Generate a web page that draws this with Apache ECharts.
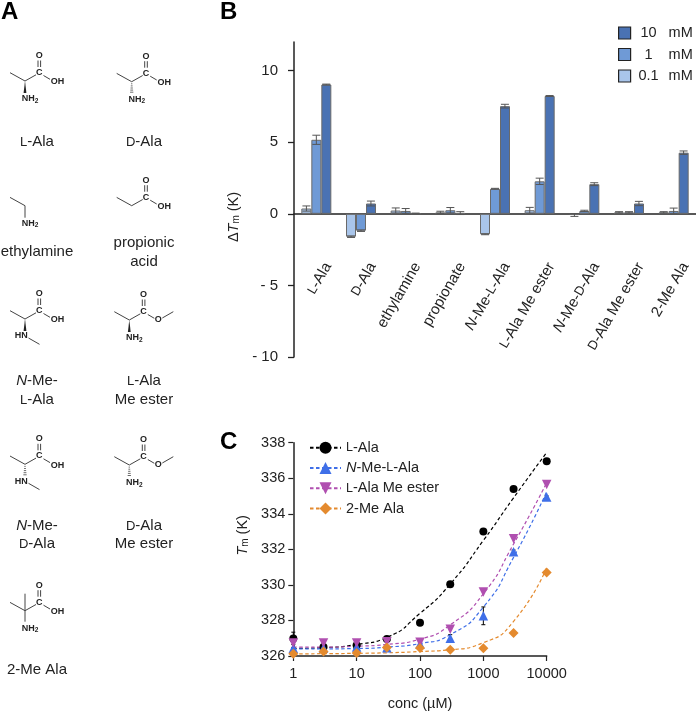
<!DOCTYPE html>
<html><head><meta charset="utf-8">
<style>html,body{margin:0;padding:0;background:#fff}#c{width:696px;height:712px}</style>
<script src="https://cdn.jsdelivr.net/npm/echarts@6/dist/echarts.min.js"></script>
</head><body><div id="c"></div>
<script>
// Panel B data
const compounds = ['L-Ala','D-Ala','ethylamine','propionate','N-Me-L-Ala','L-Ala Me ester','N-Me-D-Ala','D-Ala Me ester','2-Me Ala'];
const dTm_01 = [0.37,-1.6,0.23,0.1,-1.43,0.25,-0.08,0.1,0.1];
const dTm_1  = [5.17,-1.18,0.2,0.25,1.75,2.27,0.2,0.1,0.2];
const dTm_10 = [9.03,0.72,0.03,0.05,7.52,8.23,2.07,0.72,4.27];
const err_01 = [0.18,0.05,0.18,0.08,0.03,0.2,0.1,0.05,0.05];
const err_1  = [0.32,0.05,0.17,0.19,0.03,0.22,0.05,0.05,0.2];
const err_10 = [0.03,0.17,0.02,0.1,0.13,0.03,0.1,0.15,0.12];
// Panel C data
const conc = [1,3,10,30,100,300,1000,3000,10000];
const lAla   = [326.99,326.5,326.6,326.95,327.87,330.03,333.0,335.4,336.95];
const nMe    = [326.43,326.45,326.5,326.47,326.67,327.0,328.26,331.86,334.95];
const ester  = [326.73,326.73,326.73,326.8,326.77,327.5,329.6,332.6,335.65];
const twoMe  = [326.13,326.26,326.17,326.48,326.45,326.35,326.43,327.3,330.7];
const errLAla= [0.35,0.1,0.1,0.1,0.05,0.05,0.05,0.05,0.05];
const errNMe = [0.05,0.05,0.05,0.05,0.1,0.2,0.5,0.1,0.05];
const fitLAla  = [326.42,326.47,326.65,327.05,328.4,330.05,332.5,334.9,337.45];
const fitNMe   = [326.4,326.4,326.42,326.5,326.7,327.2,328.75,331.55,335.25];
const fitEster = [326.5,326.5,326.55,326.65,326.95,327.75,329.5,332.3,335.75];
const fitTwoMe = [326.12,326.13,326.15,326.18,326.25,326.35,326.75,327.95,331.0];
const yTicksB = [-10,-5,0,5,10];

const FONT = '"Liberation Sans", Arial, sans-serif';
const INK = '#222';
const pairs = a => conc.map((c,i)=>[c,a[i]]);

/* ---------- molecule drawings (panel A) ---------- */
const gfx = [];
const seg = (x,y,p,w) => gfx.push({type:'line',silent:true,shape:{x1:x+p[0],y1:y+p[1],x2:x+p[2],y2:y+p[3]},style:{stroke:'#444',lineWidth:w||1}});
const atom = (x,y,dx,dy,t) => gfx.push({type:'text',silent:true,style:{x:x+dx,y:y+dy,text:t,align:'center',verticalAlign:'middle',fill:'#222',font:'bold 9px '+FONT,
  rich:{s:{font:'bold 6.5px '+FONT,fill:'#222',padding:[4,0,0,0]}}}});
const wedge = (x,y)=>gfx.push({type:'polygon',silent:true,shape:{points:[[x,y],[x-1.4,y+12],[x+1.4,y+12]]},style:{fill:'#222'}});
const hash = (x,y)=>{for(let i=1;i<=5;i++){const w=.4+i*.25;seg(x,y,[-w,i*2.1,w,i*2.1],.8);}};
function acid(x,y,ester){
  seg(x,y,[0,0,11,-6.2]); atom(x,y,14.3,-8.3,'C'); atom(x,y,14.3,-25.3,'O');
  seg(x,y,[13,-20.5,13,-14]); seg(x,y,[15.6,-20.5,15.6,-14]); seg(x,y,[18.5,-5.5,25,-1.7]);
  if(ester){atom(x,y,29,0,'O'); seg(x,y,[33,-2,44,-8.3]);} else atom(x,y,32.5,1,'OH');
}
const methyl=(x,y)=>seg(x,y,[-15,-8.3,0,0]);
const amine=(x,y)=>atom(x,y,5,18,'NH{s|2}');
// L-Ala, D-Ala
methyl(25,81);acid(25,81);wedge(25,81);amine(25,81);
methyl(131.7,81.7);acid(131.7,81.7);hash(131.7,81.7);amine(131.7,81.7);
// ethylamine, propionic acid
methyl(25,205.7);seg(25,205.7,[0,0,0,12]);amine(25,205.7);
methyl(131.7,205.7);acid(131.7,205.7);
// N-Me-L-Ala, L-Ala Me ester
methyl(25,319);acid(25,319);wedge(25,319);atom(25,319,-3.7,17,'HN');seg(25,319,[3.5,19,14.5,25.3]);
methyl(129.3,320);acid(129.3,320,true);wedge(129.3,320);amine(129.3,320);
// N-Me-D-Ala, D-Ala Me ester
methyl(25,464.3);acid(25,464.3);hash(25,464.3);atom(25,464.3,-3.7,17,'HN');seg(25,464.3,[3.5,19,14.5,25.3]);
methyl(129.3,465);acid(129.3,465,true);hash(129.3,465);amine(129.3,465);
// 2-Me Ala
methyl(25,610.7);acid(25,610.7);seg(25,610.7,[0,-17,0,11]);amine(25,610.7);

const richLab = {n:{font:'italic 15px '+FONT,fill:INK},s:{font:'13px '+FONT,fill:INK}};
const lab=(x,y,t)=>gfx.push({type:'text',silent:true,style:{x,y,text:t,align:'center',verticalAlign:'middle',fill:INK,font:'15px '+FONT,rich:richLab}});
lab(37,142,'{s|L}-Ala');lab(144,142,'{s|D}-Ala');lab(37,252,'ethylamine');lab(144,243,'propionic');lab(144,262,'acid');
lab(37,381,'{n|N}-Me-');lab(37,400,'{s|L}-Ala');lab(144,381,'{s|L}-Ala');lab(144,400,'Me ester');
lab(37,526,'{n|N}-Me-');lab(37,544,'{s|D}-Ala');lab(144,526,'{s|D}-Ala');lab(144,544,'Me ester');lab(37,670,'2-Me Ala');
const panel=(x,y,t)=>gfx.push({type:'text',silent:true,style:{x,y,text:t,align:'left',verticalAlign:'middle',fill:'#000',font:'bold 24px '+FONT}});
panel(1,12,'A');panel(220,12,'B');panel(220,442,'C');

/* ---------- helpers ---------- */
const barColors = {'0.1':'#a9c5ea','1':'#6f9ad6','10':'#4a72b3'};
const barSeries=(name,data,color)=>({type:'bar',name,xAxisIndex:0,yAxisIndex:0,data,barWidth:10,barGap:'0%',
  itemStyle:{color,borderColor:'#6a6a6a',borderWidth:1},silent:true});
const errB=(vals,errs,off)=>({type:'custom',xAxisIndex:0,yAxisIndex:0,silent:true,z:5,
  data:vals.map((v,i)=>[i,v,errs[i]]),encode:{x:0,y:1},
  renderItem(p,api){
    const w=api.size([1,0])[0]/4.5;
    const x=api.coord([api.value(0),0])[0]+off*w;
    const v=api.value(1),e=api.value(2);
    const a=api.coord([0,v+e])[1],b=api.coord([0,v-e])[1];
    const st={stroke:'#555',lineWidth:1,fill:null};
    const L=(x1,y1,x2,y2)=>({type:'line',shape:{x1,y1,x2,y2},style:st});
    return {type:'group',children:[L(x,a,x,b),L(x-4,a,x+4,a),L(x-4,b,x+4,b)]};
  }});
const errC=(vals,errs)=>({type:'custom',xAxisIndex:1,yAxisIndex:1,silent:true,z:3,
  data:conc.map((c,i)=>[c,vals[i],errs[i]]),encode:{x:0,y:1},
  renderItem(p,api){
    const c=api.value(0),v=api.value(1),e=api.value(2);
    const a=api.coord([c,v+e]),b=api.coord([c,v-e]);
    const st={stroke:'#000',lineWidth:1,fill:null};
    const L=(x1,y1,x2,y2)=>({type:'line',shape:{x1,y1,x2,y2},style:st});
    return {type:'group',children:[L(a[0],a[1],a[0],b[1]),L(a[0]-2,a[1],a[0]+2,a[1]),L(a[0]-2,b[1],a[0]+2,b[1])]};
  }});
const fit=(name,data,color,symbol,rot)=>({type:'line',name,xAxisIndex:1,yAxisIndex:1,data:pairs(data),smooth:.6,
  showSymbol:false,symbol,symbolRotate:rot||0,symbolSize:8,color,silent:true,z:2,clip:false,
  lineStyle:{color,width:1.2,type:[3.5,2.5]},itemStyle:{color}});
const pts=(name,data,color,symbol,size,rot,z)=>({type:'scatter',name,xAxisIndex:1,yAxisIndex:1,data:pairs(data),
  symbol,symbolSize:size,symbolRotate:rot||0,itemStyle:{color,opacity:1},silent:true,z:z,clip:false});

const C_BLACK='#000',C_BLUE='#3f6fe8',C_PURPLE='#b04fb0',C_ORANGE='#e48a2e';
const nameC={'L-Ala':'{s|L}-Ala','N-Me-L-Ala':'{n|N}-Me-{s|L}-Ala','L-Ala Me ester':'{s|L}-Ala Me ester','2-Me Ala':'2-Me Ala'};

const option={
  animation:false,backgroundColor:'#fff',textStyle:{fontFamily:FONT},
  graphic:{elements:gfx},
  grid:[
    {left:294,top:42,width:405,height:315,containLabel:false},
    {left:293.3,top:442.7,width:253.4,height:214.3,containLabel:false}
  ],
  xAxis:[
    {type:'category',gridIndex:0,data:compounds,position:'bottom',axisLine:{onZero:true,lineStyle:{color:'#222',width:1.5}},axisTick:{show:false},
     axisLabel:{interval:0,rotate:60,margin:-100,verticalAlign:'top',padding:[6,0,0,0],color:INK,fontSize:15,fontFamily:FONT,
       formatter:v=>v.replace(/^N-Me-/,'{n|N}-Me-').replace(/(^|-)(L|D)-Ala/,(m,a,b)=>a+'{s|'+b+'}-Ala'),
       rich:{n:{fontStyle:'italic',fontSize:15,fontFamily:FONT,color:INK},s:{fontSize:13,fontFamily:FONT,color:INK}}}},
    {type:'log',gridIndex:1,logBase:10,min:1,max:10000,name:'conc (µM)',nameLocation:'middle',nameGap:40,
     nameTextStyle:{color:INK,fontSize:14.5,fontFamily:FONT},
     axisLine:{lineStyle:{color:'#222',width:1.5}},axisTick:{length:5,lineStyle:{color:'#222',width:1.2}},minorTick:{show:false},splitLine:{show:false},
     axisLabel:{margin:10,color:INK,fontSize:14.5,fontFamily:FONT,showMinLabel:true,showMaxLabel:true,formatter:v=>String(v)}}
  ],
  yAxis:[
    {type:'value',gridIndex:0,min:-10,max:12,splitLine:{show:false},
     name:'{d|Δ}{i|T}{u|m} (K)',nameLocation:'middle',nameGap:33,nameRotate:90,
     nameTextStyle:{padding:[0,35,0,0],color:INK,fontSize:14.5,fontFamily:FONT,rich:{d:{fontSize:14.5,color:INK},i:{fontStyle:'italic',fontSize:14.5,color:INK},u:{fontSize:10,color:INK,padding:[5,0,0,0]}}},
     axisLine:{show:true,onZero:false,lineStyle:{color:'#222',width:1.5}},
     axisTick:{show:true,length:6,customValues:yTicksB,lineStyle:{color:'#222',width:1.3}},
     axisLabel:{margin:16,color:INK,fontSize:15,fontFamily:FONT,customValues:yTicksB,formatter:v=>v<0?'- '+Math.abs(v):String(v)}},
    {type:'value',gridIndex:1,min:326,max:338,interval:2,splitLine:{show:false},
     name:'{i|T}{u|m} (K)',nameLocation:'middle',nameGap:43,nameRotate:90,
     nameTextStyle:{padding:[0,0,0,28],color:INK,fontSize:14.5,fontFamily:FONT,rich:{i:{fontStyle:'italic',fontSize:14.5,color:INK},u:{fontSize:10,color:INK,padding:[5,0,0,0]}}},
     axisLine:{show:true,lineStyle:{color:'#222',width:1.5}},axisTick:{show:true,length:5,lineStyle:{color:'#222',width:1.2}},
     axisLabel:{margin:8,color:INK,fontSize:14.5,fontFamily:FONT}}
  ],
  legend:[
    {data:['10  mM','1  mM','0.1  mM'],orient:'vertical',left:618,top:25.5,itemWidth:12,itemHeight:12,itemGap:6.5,padding:0,selectedMode:false,icon:'rect',
     itemStyle:{borderColor:'#222',borderWidth:1.2},
     formatter:n=>{const p=n.split('  ');return '{a|'+p[0]+'}{b|'+p[1]+'}';},
     textStyle:{color:INK,fontSize:14.5,fontFamily:FONT,rich:{a:{width:26,align:'right',fontSize:14.5,fontFamily:FONT,color:INK},b:{padding:[0,0,0,7],fontSize:14.5,fontFamily:FONT,color:INK}}}},
    {data:['L-Ala','N-Me-L-Ala','L-Ala Me ester','2-Me Ala'],orient:'vertical',left:309,top:440.2,itemWidth:31,itemHeight:15,itemGap:5.3,padding:0,selectedMode:false,
     formatter:n=>nameC[n],
     textStyle:{color:INK,fontSize:14.5,fontFamily:FONT,rich:{n:{fontStyle:'italic',fontSize:14.5,fontFamily:FONT,color:INK},s:{fontSize:12.5,fontFamily:FONT,color:INK}}}}
  ],
  series:[
    barSeries('0.1  mM',dTm_01,barColors['0.1']),
    barSeries('1  mM',dTm_1,barColors['1']),
    barSeries('10  mM',dTm_10,barColors['10']),
    errB(dTm_01,err_01,-1),errB(dTm_1,err_1,0),errB(dTm_10,err_10,1),
    fit('L-Ala',fitLAla,C_BLACK,'circle'),
    fit('N-Me-L-Ala',fitNMe,C_BLUE,'triangle'),
    fit('L-Ala Me ester',fitEster,C_PURPLE,'triangle',180),
    fit('2-Me Ala',fitTwoMe,C_ORANGE,'diamond'),
    errC(lAla,errLAla),errC(nMe,errNMe),
    pts('L-Ala data',lAla,C_BLACK,'circle',8,0,4),
    pts('N-Me-L-Ala data',nMe,C_BLUE,'triangle',9.5,0,5),
    pts('L-Ala Me ester data',ester,C_PURPLE,'triangle',9.5,180,6),
    pts('2-Me Ala data',twoMe,C_ORANGE,'diamond',10,0,7)
  ]
};
const chart=echarts.init(document.getElementById('c'),null,{renderer:'canvas'});
chart.setOption(option);
</script></body></html>
